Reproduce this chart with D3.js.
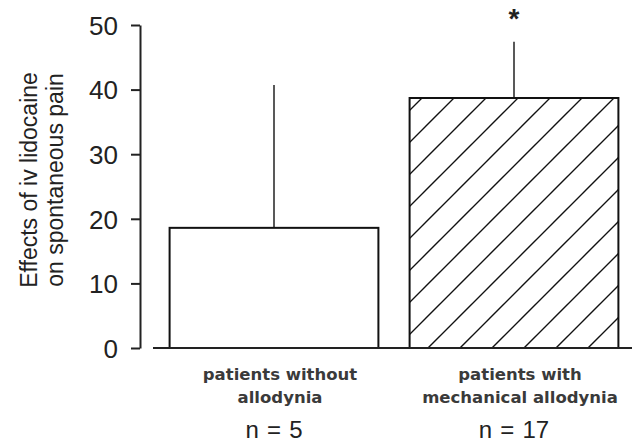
<!DOCTYPE html>
<html>
<head>
<meta charset="utf-8">
<script src="https://cdn.jsdelivr.net/npm/d3@7"></script>
<style>
  body { margin: 0; background: #fff; }
  svg { display: block; }
</style>
</head>
<body>
<svg id="chart" width="632" height="442"></svg>
<script>
// data
let groups = ['patients without allodynia', 'patients with mechanical allodynia'],
    labelLines = [['patients without', 'allodynia'], ['patients with', 'mechanical allodynia']],
    nLabels = ['n = 5', 'n = 17'],
    means = [18.6, 38.7],
    errTops = [40.7, 47.4],
    signif = ['', '*'],
    yTicks = [0, 10, 20, 30, 40, 50];

let svg = d3.select('#chart');

let x = d3.scaleBand()
          .domain(groups)
          .range([154, 634])
          .paddingInner(0.13)
          .paddingOuter(0.065);

let y = d3.scaleLinear()
          .domain([0, 50])
          .range([348, 25]);

// hatch pattern for the second bar
svg.append('defs').append('pattern')
    .attr('id', 'hatch')
    .attr('patternUnits', 'userSpaceOnUse')
    .attr('x', 8).attr('y', 0)
    .attr('width', 32).attr('height', 32)
    .append('path')
    .attr('d', 'M0,32L32,0M-8,8L8,-8M24,40L40,24')
    .attr('stroke', '#111')
    .attr('stroke-width', 1.4)
    .attr('fill', 'none');

// y axis
let yAxis = svg.append('g')
    .attr('transform', 'translate(140,0)')
    .call(d3.axisLeft(y).tickValues(yTicks).tickSize(9).tickPadding(13).tickSizeOuter(0));
yAxis.select('.domain').attr('stroke', '#222').attr('stroke-width', 2);
yAxis.selectAll('.tick line').attr('stroke', '#222').attr('stroke-width', 2);
yAxis.selectAll('.tick text')
    .attr('font-family', 'Liberation Sans, Arial, sans-serif')
    .attr('font-size', 26)
    .attr('dy', '0.36em')
    .attr('fill', '#222');

// y axis title
let yTitle = svg.append('text')
    .attr('transform', 'rotate(-90)')
    .attr('text-anchor', 'middle')
    .attr('font-family', 'Liberation Sans, Arial, sans-serif')
    .attr('font-size', 23)
    .attr('fill', '#222');
yTitle.append('tspan').attr('x', -180).attr('y', 37).text('Effects of iv lidocaine');
yTitle.append('tspan').attr('x', -180).attr('y', 63).text('on spontaneous pain');

// error bars (drawn before bars so bar top covers the foot)
svg.selectAll('.err')
    .data(groups)
    .enter()
    .append('line')
    .attr('class', 'err')
    .attr('x1', d => x(d) + x.bandwidth() / 2)
    .attr('x2', d => x(d) + x.bandwidth() / 2)
    .attr('y1', (d, i) => y(means[i]))
    .attr('y2', (d, i) => y(errTops[i]))
    .attr('stroke', '#222')
    .attr('stroke-width', 1.5);

// bars
svg.selectAll('.bar')
    .data(groups)
    .enter()
    .append('rect')
    .attr('class', 'bar')
    .attr('x', d => x(d))
    .attr('y', (d, i) => y(means[i]))
    .attr('width', x.bandwidth())
    .attr('height', (d, i) => y(0) - y(means[i]))
    .attr('fill', (d, i) => i == 1 ? 'url(#hatch)' : '#fff')
    .attr('stroke', '#111')
    .attr('stroke-width', 2);

// baseline
svg.append('line')
    .attr('x1', 153).attr('x2', 632)
    .attr('y1', y(0)).attr('y2', y(0))
    .attr('stroke', '#222')
    .attr('stroke-width', 2);

// significance marks
svg.selectAll('.sig')
    .data(groups)
    .enter()
    .append('text')
    .attr('class', 'sig')
    .attr('x', d => x(d) + x.bandwidth() / 2)
    .attr('y', (d, i) => y(errTops[i]) - 14)
    .attr('text-anchor', 'middle')
    .attr('font-family', 'Liberation Sans, Arial, sans-serif')
    .attr('font-size', 28)
    .attr('font-weight', 'bold')
    .attr('fill', '#222')
    .text((d, i) => signif[i]);

// category labels
let cat = svg.selectAll('.cat')
    .data(groups)
    .enter()
    .append('g')
    .attr('class', 'cat')
    .attr('transform', d => 'translate(' + (x(d) + x.bandwidth() / 2) + ',0)');

cat.append('text')
    .attr('text-anchor', 'middle')
    .attr('font-family', 'DejaVu Sans, Verdana, sans-serif')
    .attr('font-size', 16.5)
    .attr('font-weight', 'bold')
    .attr('fill', '#3a3a3a')
    .selectAll('tspan')
    .data((d, i) => labelLines[i])
    .enter()
    .append('tspan')
    .attr('x', 6)
    .attr('y', (d, j) => 380 + j * 23)
    .text(d => d);

cat.append('text')
    .attr('text-anchor', 'middle')
    .attr('x', 0)
    .attr('y', 438)
    .attr('font-family', 'Liberation Sans, Arial, sans-serif')
    .attr('font-size', 24)
    .attr('word-spacing', 1.5)
    .attr('fill', '#222')
    .text((d, i) => nLabels[i]);
</script>
</body>
</html>
